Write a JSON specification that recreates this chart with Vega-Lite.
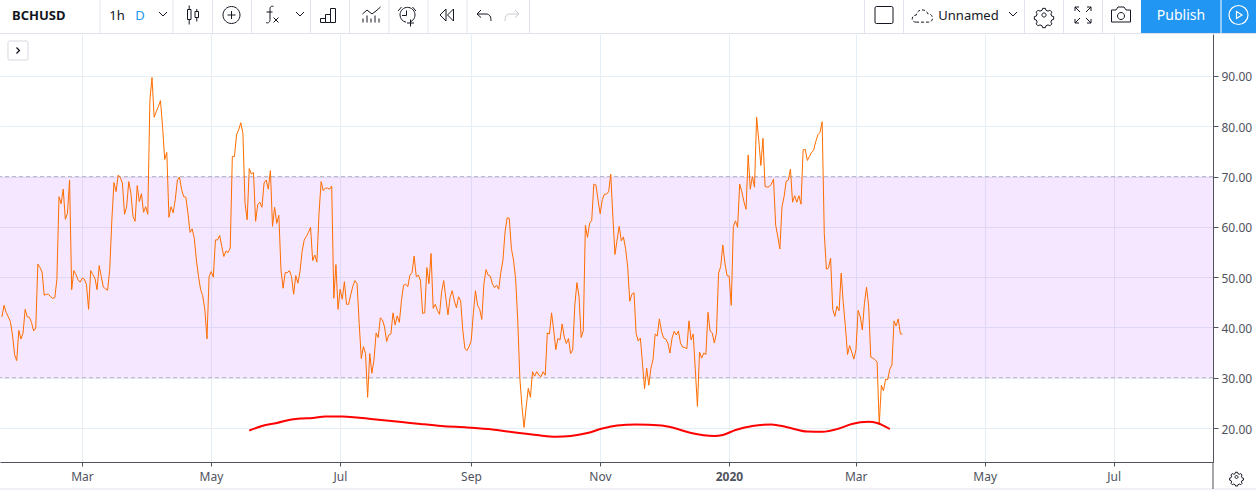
{
  "$schema": "https://vega.github.io/schema/vega-lite/v6.json",
  "description": "BCHUSD daily RSI with its moving average, in a trading chart window.",
  "padding": {"left": -1, "top": -1, "right": 0, "bottom": 0},
  "spacing": 0,
  "bounds": "flush",
  "background": "white",
  "config": {"view": {"stroke": null}, "font": "Noto Sans"},
  "datasets": {
    "ma": [
      {"d":"2019-05-18T12:00","v":19.5},{"d":"2019-05-24T12:00","v":20.4},{"d":"2019-05-31T12:00","v":21.0},{"d":"2019-06-07T12:00","v":21.7},{"d":"2019-06-12T12:00","v":21.9},{"d":"2019-06-17T12:00","v":22.0},{"d":"2019-06-23T12:00","v":22.3},{"d":"2019-07-01T12:00","v":22.3},{"d":"2019-07-08T12:00","v":22.1},{"d":"2019-07-17T12:00","v":21.7},{"d":"2019-07-29T12:00","v":21.2},{"d":"2019-08-07T12:00","v":20.8},{"d":"2019-08-17T12:00","v":20.4},{"d":"2019-08-29T12:00","v":20.1},{"d":"2019-09-10T12:00","v":19.7},{"d":"2019-09-19T12:00","v":19.2},{"d":"2019-10-01T12:00","v":18.6},{"d":"2019-10-10T12:00","v":18.25},{"d":"2019-10-17T12:00","v":18.4},{"d":"2019-10-25T12:00","v":19.0},{"d":"2019-11-01T12:00","v":19.9},{"d":"2019-11-08T12:00","v":20.5},{"d":"2019-11-17T12:00","v":20.7},{"d":"2019-11-29T12:00","v":20.5},{"d":"2019-12-05T12:00","v":20.0},{"d":"2019-12-13T12:00","v":19.0},{"d":"2019-12-24T12:00","v":18.4},{"d":"2019-12-28T12:00","v":18.6},{"d":"2020-01-03T12:00","v":19.6},{"d":"2020-01-11T12:00","v":20.4},{"d":"2020-01-20T12:00","v":20.7},{"d":"2020-01-27T12:00","v":20.2},{"d":"2020-02-06T12:00","v":19.3},{"d":"2020-02-13T12:00","v":19.25},{"d":"2020-02-21T12:00","v":19.9},{"d":"2020-02-27T12:00","v":20.8},{"d":"2020-03-06T12:00","v":21.25},{"d":"2020-03-10T12:00","v":21.0},{"d":"2020-03-16T12:00","v":19.8}
    ],
    "rsi": [
      {"d":"2019-01-21T12:00","v":42.1},{"d":"2019-01-22T12:00","v":44.4},{"d":"2019-01-23T12:00","v":43.0},{"d":"2019-01-24T12:00","v":42.1},{"d":"2019-01-25T12:00","v":41.2},{"d":"2019-01-26T12:00","v":38.5},{"d":"2019-01-27T12:00","v":34.6},{"d":"2019-01-28T12:00","v":33.4},{"d":"2019-01-29T12:00","v":39.4},{"d":"2019-01-30T12:00","v":37.7},{"d":"2019-01-31T12:00","v":38.9},
      {"d":"2019-02-01T12:00","v":43.6},{"d":"2019-02-02T12:00","v":42.1},{"d":"2019-02-03T12:00","v":42.0},{"d":"2019-02-04T12:00","v":41.0},{"d":"2019-02-05T12:00","v":39.3},{"d":"2019-02-06T12:00","v":39.9},{"d":"2019-02-07T12:00","v":52.6},{"d":"2019-02-08T12:00","v":51.9},{"d":"2019-02-09T12:00","v":51.0},{"d":"2019-02-10T12:00","v":46.4},{"d":"2019-02-11T12:00","v":46.6},{"d":"2019-02-12T12:00","v":46.6},{"d":"2019-02-13T12:00","v":46.1},{"d":"2019-02-14T12:00","v":45.8},{"d":"2019-02-15T12:00","v":45.9},{"d":"2019-02-16T12:00","v":49.5},{"d":"2019-02-17T12:00","v":66.0},{"d":"2019-02-18T12:00","v":64.6},{"d":"2019-02-19T12:00","v":67.5},{"d":"2019-02-20T12:00","v":61.5},{"d":"2019-02-21T12:00","v":62.7},{"d":"2019-02-22T12:00","v":69.3},{"d":"2019-02-23T12:00","v":47.5},{"d":"2019-02-24T12:00","v":51.3},{"d":"2019-02-25T12:00","v":50.5},{"d":"2019-02-26T12:00","v":49.5},{"d":"2019-02-27T12:00","v":49.0},{"d":"2019-02-28T12:00","v":49.8},
      {"d":"2019-03-01T12:00","v":49.6},{"d":"2019-03-02T12:00","v":48.5},{"d":"2019-03-03T12:00","v":43.6},{"d":"2019-03-04T12:00","v":51.3},{"d":"2019-03-05T12:00","v":50.5},{"d":"2019-03-06T12:00","v":49.8},{"d":"2019-03-07T12:00","v":47.5},{"d":"2019-03-08T12:00","v":52.3},{"d":"2019-03-09T12:00","v":50.1},{"d":"2019-03-10T12:00","v":48.0},{"d":"2019-03-11T12:00","v":47.7},{"d":"2019-03-12T12:00","v":47.4},{"d":"2019-03-13T12:00","v":51.5},{"d":"2019-03-14T12:00","v":61.4},{"d":"2019-03-15T12:00","v":68.8},{"d":"2019-03-16T12:00","v":67.0},{"d":"2019-03-17T12:00","v":70.3},{"d":"2019-03-18T12:00","v":69.8},{"d":"2019-03-19T12:00","v":68.7},{"d":"2019-03-20T12:00","v":62.5},{"d":"2019-03-21T12:00","v":64.0},{"d":"2019-03-22T12:00","v":69.0},{"d":"2019-03-23T12:00","v":66.7},{"d":"2019-03-24T12:00","v":62.1},{"d":"2019-03-25T12:00","v":61.1},{"d":"2019-03-26T12:00","v":68.2},{"d":"2019-03-27T12:00","v":65.0},{"d":"2019-03-28T12:00","v":66.6},{"d":"2019-03-29T12:00","v":62.9},{"d":"2019-03-30T12:00","v":64.0},{"d":"2019-03-31T12:00","v":62.5},
      {"d":"2019-04-01T12:00","v":85.2},{"d":"2019-04-02T12:00","v":89.7},{"d":"2019-04-03T12:00","v":81.8},{"d":"2019-04-04T12:00","v":82.9},{"d":"2019-04-05T12:00","v":83.9},{"d":"2019-04-06T12:00","v":85.1},{"d":"2019-04-07T12:00","v":79.9},{"d":"2019-04-08T12:00","v":73.4},{"d":"2019-04-09T12:00","v":74.8},{"d":"2019-04-10T12:00","v":61.9},{"d":"2019-04-11T12:00","v":64.0},{"d":"2019-04-12T12:00","v":62.8},{"d":"2019-04-13T12:00","v":65.4},{"d":"2019-04-14T12:00","v":69.3},{"d":"2019-04-15T12:00","v":69.9},{"d":"2019-04-16T12:00","v":67.4},{"d":"2019-04-17T12:00","v":66.0},{"d":"2019-04-18T12:00","v":65.9},{"d":"2019-04-19T12:00","v":62.7},{"d":"2019-04-20T12:00","v":58.9},{"d":"2019-04-21T12:00","v":59.6},{"d":"2019-04-22T12:00","v":57.7},{"d":"2019-04-23T12:00","v":53.4},{"d":"2019-04-24T12:00","v":50.1},{"d":"2019-04-25T12:00","v":47.5},{"d":"2019-04-26T12:00","v":46.3},{"d":"2019-04-27T12:00","v":43.5},{"d":"2019-04-28T12:00","v":37.7},{"d":"2019-04-29T12:00","v":50.1},{"d":"2019-04-30T12:00","v":51.1},
      {"d":"2019-05-01T12:00","v":50.0},{"d":"2019-05-02T12:00","v":57.4},{"d":"2019-05-03T12:00","v":57.4},{"d":"2019-05-04T12:00","v":58.3},{"d":"2019-05-05T12:00","v":56.1},{"d":"2019-05-06T12:00","v":54.1},{"d":"2019-05-07T12:00","v":55.2},{"d":"2019-05-08T12:00","v":54.9},{"d":"2019-05-09T12:00","v":55.8},{"d":"2019-05-10T12:00","v":74.0},{"d":"2019-05-11T12:00","v":74.0},{"d":"2019-05-12T12:00","v":78.3},{"d":"2019-05-13T12:00","v":79.3},{"d":"2019-05-14T12:00","v":80.7},{"d":"2019-05-15T12:00","v":78.6},{"d":"2019-05-16T12:00","v":64.7},{"d":"2019-05-17T12:00","v":61.4},{"d":"2019-05-18T12:00","v":71.6},{"d":"2019-05-19T12:00","v":70.5},{"d":"2019-05-20T12:00","v":70.8},{"d":"2019-05-21T12:00","v":61.1},{"d":"2019-05-22T12:00","v":64.4},{"d":"2019-05-23T12:00","v":64.9},{"d":"2019-05-24T12:00","v":63.9},{"d":"2019-05-25T12:00","v":68.7},{"d":"2019-05-26T12:00","v":69.3},{"d":"2019-05-27T12:00","v":67.5},{"d":"2019-05-28T12:00","v":71.2},{"d":"2019-05-29T12:00","v":60.1},{"d":"2019-05-30T12:00","v":63.9},{"d":"2019-05-31T12:00","v":60.7},
      {"d":"2019-06-01T12:00","v":62.3},{"d":"2019-06-02T12:00","v":51.5},{"d":"2019-06-03T12:00","v":47.8},{"d":"2019-06-04T12:00","v":50.9},{"d":"2019-06-05T12:00","v":50.9},{"d":"2019-06-06T12:00","v":51.3},{"d":"2019-06-07T12:00","v":50.1},{"d":"2019-06-08T12:00","v":46.6},{"d":"2019-06-09T12:00","v":50.3},{"d":"2019-06-10T12:00","v":48.8},{"d":"2019-06-11T12:00","v":51.1},{"d":"2019-06-12T12:00","v":55.1},{"d":"2019-06-13T12:00","v":57.4},{"d":"2019-06-14T12:00","v":58.1},{"d":"2019-06-15T12:00","v":58.9},{"d":"2019-06-16T12:00","v":59.9},{"d":"2019-06-17T12:00","v":53.3},{"d":"2019-06-18T12:00","v":54.4},{"d":"2019-06-19T12:00","v":53.0},{"d":"2019-06-20T12:00","v":62.7},{"d":"2019-06-21T12:00","v":69.0},{"d":"2019-06-22T12:00","v":67.2},{"d":"2019-06-23T12:00","v":67.7},{"d":"2019-06-24T12:00","v":67.7},{"d":"2019-06-25T12:00","v":67.5},{"d":"2019-06-26T12:00","v":68.1},{"d":"2019-06-27T12:00","v":45.8},{"d":"2019-06-28T12:00","v":52.5},{"d":"2019-06-29T12:00","v":43.6},{"d":"2019-06-30T12:00","v":47.6},
      {"d":"2019-07-01T12:00","v":45.6},{"d":"2019-07-02T12:00","v":49.1},{"d":"2019-07-03T12:00","v":44.6},{"d":"2019-07-04T12:00","v":44.6},{"d":"2019-07-05T12:00","v":46.5},{"d":"2019-07-06T12:00","v":48.2},{"d":"2019-07-07T12:00","v":49.3},{"d":"2019-07-08T12:00","v":48.7},{"d":"2019-07-09T12:00","v":40.8},{"d":"2019-07-10T12:00","v":33.8},{"d":"2019-07-11T12:00","v":36.2},{"d":"2019-07-12T12:00","v":34.8},{"d":"2019-07-13T12:00","v":26.1},{"d":"2019-07-14T12:00","v":34.8},{"d":"2019-07-15T12:00","v":30.9},{"d":"2019-07-16T12:00","v":33.5},{"d":"2019-07-17T12:00","v":38.9},{"d":"2019-07-18T12:00","v":38.0},{"d":"2019-07-19T12:00","v":41.9},{"d":"2019-07-20T12:00","v":41.5},{"d":"2019-07-21T12:00","v":40.1},{"d":"2019-07-22T12:00","v":37.2},{"d":"2019-07-23T12:00","v":38.5},{"d":"2019-07-24T12:00","v":38.7},{"d":"2019-07-25T12:00","v":42.9},{"d":"2019-07-26T12:00","v":40.5},{"d":"2019-07-27T12:00","v":42.3},{"d":"2019-07-28T12:00","v":41.0},{"d":"2019-07-29T12:00","v":45.4},{"d":"2019-07-30T12:00","v":48.4},{"d":"2019-07-31T12:00","v":48.6},
      {"d":"2019-08-01T12:00","v":48.1},{"d":"2019-08-02T12:00","v":50.4},{"d":"2019-08-03T12:00","v":50.9},{"d":"2019-08-04T12:00","v":54.2},{"d":"2019-08-05T12:00","v":50.1},{"d":"2019-08-06T12:00","v":50.4},{"d":"2019-08-07T12:00","v":49.3},{"d":"2019-08-08T12:00","v":42.8},{"d":"2019-08-09T12:00","v":42.9},{"d":"2019-08-10T12:00","v":51.9},{"d":"2019-08-11T12:00","v":48.7},{"d":"2019-08-12T12:00","v":54.7},{"d":"2019-08-13T12:00","v":43.8},{"d":"2019-08-14T12:00","v":44.6},{"d":"2019-08-15T12:00","v":43.4},{"d":"2019-08-16T12:00","v":42.6},{"d":"2019-08-17T12:00","v":47.1},{"d":"2019-08-18T12:00","v":49.3},{"d":"2019-08-19T12:00","v":45.8},{"d":"2019-08-20T12:00","v":42.5},{"d":"2019-08-21T12:00","v":46.0},{"d":"2019-08-22T12:00","v":47.3},{"d":"2019-08-23T12:00","v":45.3},{"d":"2019-08-24T12:00","v":43.9},{"d":"2019-08-25T12:00","v":46.1},{"d":"2019-08-26T12:00","v":45.3},{"d":"2019-08-27T12:00","v":39.5},{"d":"2019-08-28T12:00","v":35.8},{"d":"2019-08-29T12:00","v":35.4},{"d":"2019-08-30T12:00","v":36.2},{"d":"2019-08-31T12:00","v":37.4},
      {"d":"2019-09-01T12:00","v":42.8},{"d":"2019-09-02T12:00","v":47.3},{"d":"2019-09-03T12:00","v":44.4},{"d":"2019-09-04T12:00","v":43.6},{"d":"2019-09-05T12:00","v":41.6},{"d":"2019-09-06T12:00","v":48.7},{"d":"2019-09-07T12:00","v":51.5},{"d":"2019-09-08T12:00","v":50.4},{"d":"2019-09-09T12:00","v":50.2},{"d":"2019-09-10T12:00","v":48.7},{"d":"2019-09-11T12:00","v":47.9},{"d":"2019-09-12T12:00","v":48.4},{"d":"2019-09-13T12:00","v":47.6},{"d":"2019-09-14T12:00","v":50.9},{"d":"2019-09-15T12:00","v":53.4},{"d":"2019-09-16T12:00","v":59.0},{"d":"2019-09-17T12:00","v":61.8},{"d":"2019-09-18T12:00","v":61.7},{"d":"2019-09-19T12:00","v":55.7},{"d":"2019-09-20T12:00","v":53.4},{"d":"2019-09-21T12:00","v":49.7},{"d":"2019-09-22T12:00","v":41.5},{"d":"2019-09-23T12:00","v":29.9},{"d":"2019-09-24T12:00","v":24.3},{"d":"2019-09-25T12:00","v":20.1},{"d":"2019-09-26T12:00","v":24.2},{"d":"2019-09-27T12:00","v":27.9},{"d":"2019-09-28T12:00","v":26.1},{"d":"2019-09-29T12:00","v":31.2},{"d":"2019-09-30T12:00","v":30.3},
      {"d":"2019-10-01T12:00","v":31.2},{"d":"2019-10-02T12:00","v":30.5},{"d":"2019-10-03T12:00","v":30.2},{"d":"2019-10-04T12:00","v":31.2},{"d":"2019-10-05T12:00","v":30.5},{"d":"2019-10-06T12:00","v":38.9},{"d":"2019-10-07T12:00","v":38.7},{"d":"2019-10-08T12:00","v":42.9},{"d":"2019-10-09T12:00","v":39.5},{"d":"2019-10-10T12:00","v":35.6},{"d":"2019-10-11T12:00","v":37.8},{"d":"2019-10-12T12:00","v":37.5},{"d":"2019-10-13T12:00","v":40.7},{"d":"2019-10-14T12:00","v":38.1},{"d":"2019-10-15T12:00","v":36.8},{"d":"2019-10-16T12:00","v":37.8},{"d":"2019-10-17T12:00","v":34.8},{"d":"2019-10-18T12:00","v":35.5},{"d":"2019-10-19T12:00","v":44.4},{"d":"2019-10-20T12:00","v":48.9},{"d":"2019-10-21T12:00","v":46.1},{"d":"2019-10-22T12:00","v":38.0},{"d":"2019-10-23T12:00","v":39.3},{"d":"2019-10-24T12:00","v":60.3},{"d":"2019-10-25T12:00","v":57.9},{"d":"2019-10-26T12:00","v":60.7},{"d":"2019-10-27T12:00","v":61.3},{"d":"2019-10-28T12:00","v":68.5},{"d":"2019-10-29T12:00","v":68.3},{"d":"2019-10-30T12:00","v":65.3},{"d":"2019-10-31T12:00","v":62.6},
      {"d":"2019-11-01T12:00","v":65.4},{"d":"2019-11-02T12:00","v":66.5},{"d":"2019-11-03T12:00","v":66.5},{"d":"2019-11-04T12:00","v":67.0},{"d":"2019-11-05T12:00","v":70.5},{"d":"2019-11-06T12:00","v":62.0},{"d":"2019-11-07T12:00","v":54.5},{"d":"2019-11-08T12:00","v":57.4},{"d":"2019-11-09T12:00","v":60.1},{"d":"2019-11-10T12:00","v":57.2},{"d":"2019-11-11T12:00","v":58.0},{"d":"2019-11-12T12:00","v":55.7},{"d":"2019-11-13T12:00","v":52.1},{"d":"2019-11-14T12:00","v":45.2},{"d":"2019-11-15T12:00","v":46.6},{"d":"2019-11-16T12:00","v":46.9},{"d":"2019-11-17T12:00","v":38.8},{"d":"2019-11-18T12:00","v":37.3},{"d":"2019-11-19T12:00","v":37.9},{"d":"2019-11-20T12:00","v":32.9},{"d":"2019-11-21T12:00","v":27.8},{"d":"2019-11-22T12:00","v":31.9},{"d":"2019-11-23T12:00","v":28.5},{"d":"2019-11-24T12:00","v":31.9},{"d":"2019-11-25T12:00","v":33.6},{"d":"2019-11-26T12:00","v":38.7},{"d":"2019-11-27T12:00","v":38.3},{"d":"2019-11-28T12:00","v":41.7},{"d":"2019-11-29T12:00","v":39.2},{"d":"2019-11-30T12:00","v":37.9},
      {"d":"2019-12-01T12:00","v":37.7},{"d":"2019-12-02T12:00","v":36.9},{"d":"2019-12-03T12:00","v":34.9},{"d":"2019-12-04T12:00","v":37.9},{"d":"2019-12-05T12:00","v":39.2},{"d":"2019-12-06T12:00","v":38.5},{"d":"2019-12-07T12:00","v":39.3},{"d":"2019-12-08T12:00","v":36.9},{"d":"2019-12-09T12:00","v":36.1},{"d":"2019-12-10T12:00","v":36.0},{"d":"2019-12-11T12:00","v":35.8},{"d":"2019-12-12T12:00","v":41.3},{"d":"2019-12-13T12:00","v":37.5},{"d":"2019-12-14T12:00","v":38.7},{"d":"2019-12-15T12:00","v":31.6},{"d":"2019-12-16T12:00","v":24.3},{"d":"2019-12-17T12:00","v":35.1},{"d":"2019-12-18T12:00","v":33.9},{"d":"2019-12-19T12:00","v":34.9},{"d":"2019-12-20T12:00","v":34.6},{"d":"2019-12-21T12:00","v":43.0},{"d":"2019-12-22T12:00","v":39.3},{"d":"2019-12-23T12:00","v":38.9},{"d":"2019-12-24T12:00","v":36.9},{"d":"2019-12-25T12:00","v":38.9},{"d":"2019-12-26T12:00","v":50.8},{"d":"2019-12-27T12:00","v":52.1},{"d":"2019-12-28T12:00","v":56.4},{"d":"2019-12-29T12:00","v":52.8},{"d":"2019-12-30T12:00","v":50.3},{"d":"2019-12-31T12:00","v":50.2},
      {"d":"2020-01-01T12:00","v":44.4},{"d":"2020-01-02T12:00","v":60.1},{"d":"2020-01-03T12:00","v":61.2},{"d":"2020-01-04T12:00","v":59.9},{"d":"2020-01-05T12:00","v":68.5},{"d":"2020-01-06T12:00","v":67.0},{"d":"2020-01-07T12:00","v":65.0},{"d":"2020-01-08T12:00","v":63.5},{"d":"2020-01-09T12:00","v":74.3},{"d":"2020-01-10T12:00","v":67.5},{"d":"2020-01-11T12:00","v":70.0},{"d":"2020-01-12T12:00","v":67.9},{"d":"2020-01-13T12:00","v":81.8},{"d":"2020-01-14T12:00","v":77.3},{"d":"2020-01-15T12:00","v":72.2},{"d":"2020-01-16T12:00","v":77.6},{"d":"2020-01-17T12:00","v":68.0},{"d":"2020-01-18T12:00","v":67.9},{"d":"2020-01-19T12:00","v":68.0},{"d":"2020-01-20T12:00","v":68.5},{"d":"2020-01-21T12:00","v":69.5},{"d":"2020-01-22T12:00","v":60.4},{"d":"2020-01-23T12:00","v":58.1},{"d":"2020-01-24T12:00","v":55.6},{"d":"2020-01-25T12:00","v":64.0},{"d":"2020-01-26T12:00","v":66.0},{"d":"2020-01-27T12:00","v":69.1},{"d":"2020-01-28T12:00","v":69.3},{"d":"2020-01-29T12:00","v":71.5},{"d":"2020-01-30T12:00","v":64.9},{"d":"2020-01-31T12:00","v":66.2},
      {"d":"2020-02-01T12:00","v":64.9},{"d":"2020-02-02T12:00","v":66.2},{"d":"2020-02-03T12:00","v":64.5},{"d":"2020-02-04T12:00","v":75.3},{"d":"2020-02-05T12:00","v":75.4},{"d":"2020-02-06T12:00","v":73.2},{"d":"2020-02-07T12:00","v":74.0},{"d":"2020-02-08T12:00","v":74.8},{"d":"2020-02-09T12:00","v":75.3},{"d":"2020-02-10T12:00","v":77.0},{"d":"2020-02-11T12:00","v":78.3},{"d":"2020-02-12T12:00","v":78.8},{"d":"2020-02-13T12:00","v":80.9},{"d":"2020-02-14T12:00","v":58.7},{"d":"2020-02-15T12:00","v":51.6},{"d":"2020-02-16T12:00","v":51.8},{"d":"2020-02-17T12:00","v":53.8},{"d":"2020-02-18T12:00","v":43.6},{"d":"2020-02-19T12:00","v":42.2},{"d":"2020-02-20T12:00","v":44.2},{"d":"2020-02-21T12:00","v":43.3},{"d":"2020-02-22T12:00","v":50.8},{"d":"2020-02-23T12:00","v":44.8},{"d":"2020-02-24T12:00","v":40.2},{"d":"2020-02-25T12:00","v":34.6},{"d":"2020-02-26T12:00","v":36.4},{"d":"2020-02-27T12:00","v":35.1},{"d":"2020-02-28T12:00","v":33.7},{"d":"2020-02-29T12:00","v":35.6},
      {"d":"2020-03-01T12:00","v":43.4},{"d":"2020-03-02T12:00","v":42.2},{"d":"2020-03-03T12:00","v":39.5},{"d":"2020-03-04T12:00","v":44.8},{"d":"2020-03-05T12:00","v":48.0},{"d":"2020-03-06T12:00","v":44.2},{"d":"2020-03-07T12:00","v":34.1},{"d":"2020-03-08T12:00","v":33.9},{"d":"2020-03-09T12:00","v":33.6},{"d":"2020-03-10T12:00","v":33.1},{"d":"2020-03-11T12:00","v":20.6},{"d":"2020-03-12T12:00","v":28.5},{"d":"2020-03-13T12:00","v":27.4},{"d":"2020-03-14T12:00","v":29.7},{"d":"2020-03-15T12:00","v":29.6},{"d":"2020-03-16T12:00","v":31.7},{"d":"2020-03-17T12:00","v":32.5},{"d":"2020-03-18T12:00","v":41.3},{"d":"2020-03-19T12:00","v":40.3},{"d":"2020-03-20T12:00","v":41.7},{"d":"2020-03-21T12:00","v":38.7},{"d":"2020-03-22T12:00","v":38.7}
    ]
  },
  "vconcat": [
    {
      "width": 1256,
      "height": 34,
      "layer": [
        {
          "data": {"values": [{"at": 1141, "end": 1256}]},
          "mark": {"type": "rect", "color": "#2196f3"},
          "encoding": {
            "x": {"field": "at", "type": "quantitative", "scale": {"domain": [0, 1256]}, "axis": null},
            "x2": {"field": "end"}
          }
        },
        {
          "data": {"values": [{"at": 100},{"at": 173},{"at": 212.5},{"at": 251.5},{"at": 310.5},{"at": 349.5},{"at": 389},{"at": 428},{"at": 467},{"at": 529.5},{"at": 864.5},{"at": 903.5},{"at": 1024.5},{"at": 1063.5},{"at": 1102.5}]},
          "mark": {"type": "rule", "color": "#e0e3eb"},
          "encoding": {"x": {"field": "at", "type": "quantitative", "scale": {"domain": [0, 1256]}, "axis": null}}
        },
        {
          "data": {"values": [{"at": 1221}]},
          "mark": {"type": "rule", "color": "white"},
          "encoding": {"x": {"field": "at", "type": "quantitative", "scale": {"domain": [0, 1256]}, "axis": null}}
        },
        {
          "data": {"values": [{"row": 33.5}]},
          "mark": {"type": "rule", "color": "#e0e3eb"},
          "encoding": {"y": {"field": "row", "type": "quantitative", "scale": {"domain": [34, 0]}, "axis": null}}
        },
        {
          "data": {"values": [{"label": "BCHUSD", "at": 12}]},
          "mark": {"type": "text", "align": "left", "baseline": "middle", "fontWeight": "bold", "fontSize": 13, "color": "#131722"},
          "encoding": {
            "x": {"field": "at", "type": "quantitative", "scale": {"domain": [0, 1256]}, "axis": null},
            "y": {"datum": 16, "type": "quantitative", "scale": {"domain": [34, 0]}, "axis": null},
            "text": {"field": "label"}
          }
        },
        {
          "data": {"values": [{"label": "1h", "at": 117},{"label": "Unnamed", "at": 968.5}]},
          "mark": {"type": "text", "align": "center", "baseline": "middle", "fontSize": 13, "color": "#131722"},
          "encoding": {
            "x": {"field": "at", "type": "quantitative", "scale": {"domain": [0, 1256]}, "axis": null},
            "y": {"datum": 16, "type": "quantitative", "scale": {"domain": [34, 0]}, "axis": null},
            "text": {"field": "label"}
          }
        },
        {
          "data": {"values": [{"label": "D", "at": 140}]},
          "mark": {"type": "text", "align": "center", "baseline": "middle", "fontSize": 13, "color": "#2196f3"},
          "encoding": {
            "x": {"field": "at", "type": "quantitative", "scale": {"domain": [0, 1256]}, "axis": null},
            "y": {"datum": 16, "type": "quantitative", "scale": {"domain": [34, 0]}, "axis": null},
            "text": {"field": "label"}
          }
        },
        {
          "data": {"values": [{"label": "Publish", "at": 1181}]},
          "mark": {"type": "text", "align": "center", "baseline": "middle", "fontSize": 14, "color": "white"},
          "encoding": {
            "x": {"field": "at", "type": "quantitative", "scale": {"domain": [0, 1256]}, "axis": null},
            "y": {"datum": 16, "type": "quantitative", "scale": {"domain": [34, 0]}, "axis": null},
            "text": {"field": "label"}
          }
        },
        {
          "data": {"values": [{"icon": "candles", "at": 193},{"icon": "add", "at": 231.5},{"icon": "fx", "at": 271},{"icon": "bars", "at": 329},{"icon": "indicators", "at": 371},{"icon": "alarm", "at": 407},{"icon": "rewind", "at": 447},{"icon": "undo", "at": 484},{"icon": "square", "at": 884},{"icon": "expand", "at": 1083},{"icon": "camera", "at": 1121}]},
          "mark": {"type": "point", "filled": false, "size": 400, "strokeWidth": 1, "color": "#131722", "opacity": 1},
          "encoding": {
            "x": {"field": "at", "type": "quantitative", "scale": {"domain": [0, 1256]}, "axis": null},
            "y": {"datum": 15, "type": "quantitative", "scale": {"domain": [34, 0]}, "axis": null},
            "shape": {
              "field": "icon",
              "legend": null,
              "scale": {
                "domain": ["candles", "add", "fx", "bars", "indicators", "alarm", "rewind", "undo", "square", "expand", "camera"],
                "range": [
                  "M -0.55 -0.55 h 0.35 v 1 h -0.35 z M -0.38 -0.95 v 0.4 M -0.38 0.45 v 0.5 M 0.2 -0.35 h 0.35 v 0.6 h -0.35 z M 0.38 -0.6 v 0.25 M 0.38 0.25 v 0.4",
                  "M -0.85 0 a 0.85 0.85 0 1 0 1.7 0 a 0.85 0.85 0 1 0 -1.7 0 M -0.4 0 h 0.8 M 0 -0.4 v 0.8",
                  "M 0.25 -0.85 c -0.3 -0.1 -0.35 0.1 -0.35 0.3 v 1 c 0 0.3 -0.2 0.4 -0.4 0.3 M -0.45 -0.3 h 0.6 M 0.25 0.25 l 0.5 0.5 M 0.75 0.25 l -0.5 0.5",
                  "M -0.85 0.75 v -0.4 h 0.5 v 0.4 z M -0.35 0.75 v -0.8 h 0.5 v 0.8 z M 0.15 0.75 v -1.4 h 0.5 v 1.4 z",
                  "M -0.85 -0.1 l 0.45 -0.4 l 0.5 0.4 l 0.4 -0.3 l 0.45 -0.4 M -0.8 0.75 v -0.4 M -0.4 0.75 v -0.7 M 0 0.75 v -0.4 M 0.4 0.75 v -0.7 M 0.8 0.75 v -0.4",
                  "M -0.7 0 a 0.75 0.75 0 1 1 1.1 0.65 M -0.7 0 a 0.75 0.75 0 0 0 0.6 0.72 M -0.05 -0.45 v 0.5 h -0.45 M 0.35 0.45 v 0.7 M 0 0.8 h 0.7 M -0.9 -0.4 l 0.35 -0.4 M 0.55 -0.8 l 0.35 0.4",
                  "M -0.1 -0.6 l -0.6 0.6 l 0.6 0.6 z M 0.65 -0.6 l -0.6 0.6 l 0.6 0.6 z",
                  "M -0.7 -0.1 l 0.4 -0.4 M -0.7 -0.1 l 0.4 0.35 M -0.7 -0.1 h 0.9 c 0.4 0 0.5 0.3 0.5 0.7",
                  "M -0.75 -0.85 h 1.5 q 0.15 0 0.15 0.15 v 1.4 q 0 0.15 -0.15 0.15 h -1.5 q -0.15 0 -0.15 -0.15 v -1.4 q 0 -0.15 0.15 -0.15 z",
                  "M -0.8 -0.8 l 0.5 0.5 M -0.8 -0.8 h 0.4 M -0.8 -0.8 v 0.4 M 0.8 -0.8 l -0.5 0.5 M 0.8 -0.8 h -0.4 M 0.8 -0.8 v 0.4 M -0.8 0.8 l 0.5 -0.5 M -0.8 0.8 h 0.4 M -0.8 0.8 v -0.4 M 0.8 0.8 l -0.5 -0.5 M 0.8 0.8 h -0.4 M 0.8 0.8 v -0.4",
                  "M -0.95 -0.5 h 0.45 l 0.2 -0.3 h 0.6 l 0.2 0.3 h 0.45 v 1.2 h -1.9 z M -0.35 0.1 a 0.35 0.35 0 1 0 0.7 0 a 0.35 0.35 0 1 0 -0.7 0"
                ]
              }
            }
          }
        },
        {
          "data": {"values": [{"at": 1044}]},
          "mark": {"type": "point", "filled": false, "size": 196, "strokeWidth": 1, "color": "#131722", "opacity": 1, "shape": "M -0.2 -0.95 h 0.4 l 0.08 0.28 l 0.3 0.12 l 0.26 -0.14 l 0.28 0.28 l -0.14 0.26 l 0.12 0.3 l 0.28 0.08 v 0.4 l -0.28 0.08 l -0.12 0.3 l 0.14 0.26 l -0.28 0.28 l -0.26 -0.14 l -0.3 0.12 l -0.08 0.28 h -0.4 l -0.08 -0.28 l -0.3 -0.12 l -0.26 0.14 l -0.28 -0.28 l 0.14 -0.26 l -0.12 -0.3 l -0.28 -0.08 v -0.4 l 0.28 -0.08 l 0.12 -0.3 l -0.14 -0.26 l 0.28 -0.28 l 0.26 0.14 l 0.3 -0.12 z M -0.3 0 a 0.3 0.3 0 1 0 0.6 0 a 0.3 0.3 0 1 0 -0.6 0"},
          "encoding": {
            "x": {"field": "at", "type": "quantitative", "scale": {"domain": [0, 1256]}, "axis": null},
            "y": {"datum": 15, "type": "quantitative", "scale": {"domain": [34, 0]}, "axis": null}
          }
        },
        {
          "data": {"values": [{"at": 512}]},
          "mark": {"type": "point", "filled": false, "size": 400, "strokeWidth": 1, "color": "#c9cbd2", "opacity": 1, "shape": "M 0.7 -0.1 l -0.4 -0.4 M 0.7 -0.1 l -0.4 0.35 M 0.7 -0.1 h -0.9 c -0.4 0 -0.5 0.3 -0.5 0.7"},
          "encoding": {
            "x": {"field": "at", "type": "quantitative", "scale": {"domain": [0, 1256]}, "axis": null},
            "y": {"datum": 15, "type": "quantitative", "scale": {"domain": [34, 0]}, "axis": null}
          }
        },
        {
          "data": {"values": [{"at": 163},{"at": 300},{"at": 1013}]},
          "mark": {"type": "point", "filled": false, "size": 100, "strokeWidth": 1, "color": "#131722", "opacity": 1, "shape": "M -0.8 -0.4 l 0.8 0.8 l 0.8 -0.8"},
          "encoding": {
            "x": {"field": "at", "type": "quantitative", "scale": {"domain": [0, 1256]}, "axis": null},
            "y": {"datum": 14, "type": "quantitative", "scale": {"domain": [34, 0]}, "axis": null}
          }
        },
        {
          "data": {"values": [{"at": 924}]},
          "mark": {"type": "point", "filled": false, "size": 484, "strokeWidth": 1, "strokeDash": [3, 2], "color": "#131722", "opacity": 1, "shape": "M -0.7 0.65 c -0.5 0 -0.5 -0.6 0 -0.65 c 0.1 -0.6 0.9 -0.6 1.05 -0.1 c 0.5 -0.05 0.6 0.75 0.05 0.75 z"},
          "encoding": {
            "x": {"field": "at", "type": "quantitative", "scale": {"domain": [0, 1256]}, "axis": null},
            "y": {"datum": 15, "type": "quantitative", "scale": {"domain": [34, 0]}, "axis": null}
          }
        },
        {
          "data": {"values": [{"at": 1238.5}]},
          "mark": {"type": "point", "filled": false, "size": 400, "strokeWidth": 1.2, "color": "white", "opacity": 1, "shape": "M -0.95 0 a 0.95 0.95 0 1 0 1.9 0 a 0.95 0.95 0 1 0 -1.9 0 M -0.2 -0.35 l 0.55 0.35 l -0.55 0.35 z"},
          "encoding": {
            "x": {"field": "at", "type": "quantitative", "scale": {"domain": [0, 1256]}, "axis": null},
            "y": {"datum": 15, "type": "quantitative", "scale": {"domain": [34, 0]}, "axis": null}
          }
        }
      ]
    },
    {
      "width": 1213,
      "height": 428,
      "layer": [
        {
          "data": {"values": [{"hi": 70, "lo": 30}]},
          "mark": {"type": "rect", "color": "#9915ff", "opacity": 0.1},
          "encoding": {
            "y": {"field": "hi", "type": "quantitative", "scale": {"domain": [13.24, 98.35], "nice": false, "zero": false}, "axis": {"title": null, "orient": "right", "values": [20, 30, 40, 50, 60, 70, 80, 90], "format": ".2f", "grid": true, "gridColor": "#e6eef5", "domainColor": "#50535e", "tickColor": "#50535e", "tickSize": 5, "labelColor": "#50535e", "labelFontSize": 12, "labelPadding": 3, "labelOffset": 1}},
            "y2": {"field": "lo"}
          }
        },
        {
          "data": {"values": [{"level": 30}, {"level": 70}]},
          "mark": {"type": "rule", "color": "#787b86", "opacity": 0.5, "strokeDash": [4, 3]},
          "encoding": {"y": {"field": "level", "type": "quantitative"}}
        },
        {
          "data": {"name": "rsi"},
          "mark": {"type": "line", "color": "#ff6d00", "strokeWidth": 1, "xOffset": 1.3},
          "encoding": {
            "x": {
              "field": "d",
              "type": "temporal",
              "scale": {"domain": [{"year": 2019, "month": 1, "date": 21, "hours": 5}, {"year": 2020, "month": 8, "date": 17}]},
              "axis": {
                "title": null,
                "values": [{"year": 2019, "month": 3, "date": 1}, {"year": 2019, "month": 5, "date": 1}, {"year": 2019, "month": 7, "date": 1}, {"year": 2019, "month": 9, "date": 1}, {"year": 2019, "month": 11, "date": 1}, {"year": 2020, "month": 1, "date": 1}, {"year": 2020, "month": 3, "date": 1}, {"year": 2020, "month": 5, "date": 1}, {"year": 2020, "month": 7, "date": 1}],
                "labelExpr": "month(datum.value) == 0 ? timeFormat(datum.value, '%Y') : timeFormat(datum.value, '%b')",
                "labelFontWeight": {"condition": {"test": "month(datum.value) == 0", "value": "bold"}, "value": "normal"},
                "labelColor": "#50535e",
                "labelFontSize": 12,
                "labelPadding": 5,
                "labelFlush": false,
                "grid": true,
                "gridColor": "#e6eef5",
                "domainColor": "#50535e",
                "tickColor": "#50535e",
                "tickSize": 4
              }
            },
            "y": {"field": "v", "type": "quantitative"}
          }
        },
        {
          "data": {"name": "ma"},
          "mark": {"type": "line", "color": "#ff0000", "strokeWidth": 2, "interpolate": "monotone", "xOffset": 1.3},
          "encoding": {
            "x": {"field": "d", "type": "temporal"},
            "y": {"field": "v", "type": "quantitative"}
          }
        },
        {
          "data": {"values": [{"d": "2019-01-29T17:00", "v": 95.07}]},
          "mark": {"type": "point", "filled": false, "size": 400, "strokeWidth": 1, "color": "#d6d8e0", "opacity": 1, "shape": "M -0.85 -0.95 h 1.7 q 0.15 0 0.15 0.15 v 1.6 q 0 0.15 -0.15 0.15 h -1.7 q -0.15 0 -0.15 -0.15 v -1.6 q 0 -0.15 0.15 -0.15 z"},
          "encoding": {
            "x": {"field": "d", "type": "temporal"},
            "y": {"field": "v", "type": "quantitative"}
          }
        },
        {
          "data": {"values": [{"d": "2019-01-29T17:00", "v": 95.07}]},
          "mark": {"type": "point", "filled": false, "size": 36, "strokeWidth": 1.3, "color": "#131722", "opacity": 1, "shape": "M -0.5 -1 l 1 1 l -1 1"},
          "encoding": {
            "x": {"field": "d", "type": "temporal"},
            "y": {"field": "v", "type": "quantitative"}
          }
        }
      ]
    },
    {
      "width": 1256,
      "height": 34,
      "layer": [
        {
          "data": {"values": [{"row": 27}]},
          "mark": {"type": "rule", "color": "#e0e3eb"},
          "encoding": {"y": {"field": "row", "type": "quantitative", "scale": {"domain": [34, 0]}, "axis": null}}
        },
        {
          "data": {"values": [{"at": 1213, "row": 0, "end": 27}]},
          "mark": {"type": "rule", "color": "#50535e"},
          "encoding": {
            "x": {"field": "at", "type": "quantitative", "scale": {"domain": [0, 1256]}, "axis": null},
            "y": {"field": "row", "type": "quantitative", "scale": {"domain": [34, 0]}, "axis": null},
            "y2": {"field": "end"}
          }
        },
        {
          "data": {"values": [{"at": 1236.5, "row": 15}]},
          "mark": {"type": "point", "filled": false, "size": 100, "strokeWidth": 1, "color": "#131722", "opacity": 1, "shape": "M -0.2 -0.95 h 0.4 l 0.08 0.28 l 0.3 0.12 l 0.26 -0.14 l 0.28 0.28 l -0.14 0.26 l 0.12 0.3 l 0.28 0.08 v 0.4 l -0.28 0.08 l -0.12 0.3 l 0.14 0.26 l -0.28 0.28 l -0.26 -0.14 l -0.3 0.12 l -0.08 0.28 h -0.4 l -0.08 -0.28 l -0.3 -0.12 l -0.26 0.14 l -0.28 -0.28 l 0.14 -0.26 l -0.12 -0.3 l -0.28 -0.08 v -0.4 l 0.28 -0.08 l 0.12 -0.3 l -0.14 -0.26 l 0.28 -0.28 l 0.26 0.14 l 0.3 -0.12 z M -0.3 0 a 0.3 0.3 0 1 0 0.6 0 a 0.3 0.3 0 1 0 -0.6 0"},
          "encoding": {
            "x": {"field": "at", "type": "quantitative", "scale": {"domain": [0, 1256]}, "axis": null},
            "y": {"field": "row", "type": "quantitative", "scale": {"domain": [34, 0]}, "axis": null}
          }
        }
      ]
    }
  ]
}
